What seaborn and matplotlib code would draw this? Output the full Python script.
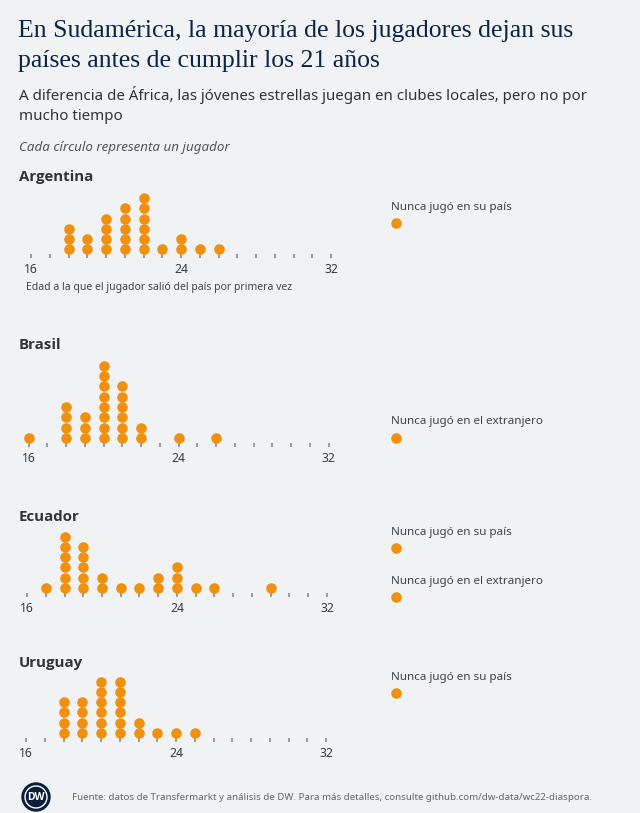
import matplotlib
matplotlib.use("Agg")
import matplotlib.pyplot as plt
import pandas as pd
import seaborn as sns

# ---------------- data ----------------
TITLE_LINES = ["En Sudamérica, la mayoría de los jugadores dejan sus",
               "países antes de cumplir los 21 años"]
SUBTITLE_LINES = ["A diferencia de África, las jóvenes estrellas juegan en clubes locales, pero no por",
                  "mucho tiempo"]
NOTE = "Cada círculo representa un jugador"
XLABEL = "Edad a la que el jugador salió del país por primera vez"
SOURCE = "Fuente: datos de Transfermarkt y análisis de DW. Para más detalles, consulte github.com/dw-data/wc22-diaspora."

countries = ["Argentina", "Brasil", "Ecuador", "Uruguay"]

arg_ages = [18, 19, 20, 21, 22, 23, 24, 25, 26]
arg_counts = [3, 2, 4, 5, 6, 1, 2, 1, 1]
bra_ages = [16, 18, 19, 20, 21, 22, 24, 26]
bra_counts = [1, 4, 3, 8, 6, 2, 1, 1]
ecu_ages = [17, 18, 19, 20, 21, 22, 23, 24, 25, 26, 29]
ecu_counts = [1, 6, 5, 2, 1, 1, 2, 3, 1, 1, 1]
uru_ages = [18, 19, 20, 21, 22, 23, 24, 25]
uru_counts = [4, 4, 6, 6, 2, 1, 1, 1]

arg_never = ["Nunca jugó en su país"]
arg_never_counts = [1]
bra_never = ["Nunca jugó en el extranjero"]
bra_never_counts = [1]
ecu_never = ["Nunca jugó en su país", "Nunca jugó en el extranjero"]
ecu_never_counts = [1, 1]
uru_never = ["Nunca jugó en su país"]
uru_never_counts = [1]

tick_ages = list(range(16, 33))
labeled_ticks = [16, 24, 32]

# ---------------- style ----------------
BG = "#f1f2f4"
ORANGE = "#f0900f"
NAVY = "#0b2546"
sns.set_style("white")
plt.rcParams["font.family"] = ["Noto Sans", "DejaVu Sans"]

W, H = 640, 813
fig = plt.figure(figsize=(W / 100, H / 100), dpi=100, facecolor=BG)

# overlay axes in pixel coordinates for texts
ov = fig.add_axes([0, 0, 1, 1], zorder=0)
ov.set_xlim(0, W)
ov.set_ylim(H, 0)
ov.axis("off")
ov.patch.set_alpha(0)

# header
title_y = [37.5, 67]
for line, y in zip(TITLE_LINES, title_y):
    ov.text(18, y, line, fontsize=18.5, color=NAVY, family=["Liberation Serif", "DejaVu Serif"],
            va="baseline", ha="left")
sub_y = [100.5, 119.5]
for line, y in zip(SUBTITLE_LINES, sub_y):
    ov.text(19, y, line, fontsize=10.9, color="#333333", va="baseline", ha="left")
ov.text(19, 150.5, NOTE, fontsize=9.6, color="#555555", style="italic", va="baseline", ha="left")

# panels
panel_data = [
    (arg_ages, arg_counts, arg_never, arg_never_counts),
    (bra_ages, bra_counts, bra_never, bra_never_counts),
    (ecu_ages, ecu_counts, ecu_never, ecu_never_counts),
    (uru_ages, uru_counts, uru_never, uru_never_counts),
]
baselines = [249.5, 438, 588, 733]
name_baselines = [181, 348.5, 521, 667]
never_text_y = [[207], [421.5], [532, 581], [677]]
x16_px = [31, 28.5, 27, 26]

PX_PER_YEAR = 18.75
ROW_PX = 10.3
AX_LEFT, AX_RIGHT = 14, 360
DOT_S = 58

for (ages, counts, never_lab, never_cnt), base, nb, nty, name, x16 in zip(
        panel_data, baselines, name_baselines, never_text_y, countries, x16_px):
    # country label
    ov.text(19, nb, name, fontsize=10.8, fontweight="bold", color="#333333",
            family=["Open Sans", "DejaVu Sans"], va="baseline", ha="left")

    rows = []
    for a, c in zip(ages, counts):
        for k in range(c):
            rows.append({"edad": a, "fila": k})
    df = pd.DataFrame(rows)

    bottom_px = base + 5
    y0 = -5 / ROW_PX
    y1 = 8.6
    height_px = (y1 - y0) * ROW_PX
    ax = fig.add_axes([AX_LEFT / W, 1 - bottom_px / H, (AX_RIGHT - AX_LEFT) / W, height_px / H],
                      zorder=2)
    ax.patch.set_alpha(0)
    xmin = 16 - (x16 - AX_LEFT) / PX_PER_YEAR
    xmax = 16 + (AX_RIGHT - x16) / PX_PER_YEAR
    sns.scatterplot(data=df, x="edad", y="fila", ax=ax, color=ORANGE, s=DOT_S,
                    linewidth=0, legend=False, zorder=3)
    ax.set_xlim(xmin, xmax)
    ax.set_ylim(y0, y1)
    for sp in ax.spines.values():
        sp.set_visible(False)
    ax.set_yticks([])
    ax.set_xticks(tick_ages)
    ax.set_xticklabels([str(a) if a in labeled_ticks else "" for a in tick_ages])
    ax.tick_params(axis="x", bottom=True, length=3.0, width=1.2, color="#8a8a8a", pad=3.2,
                   labelsize=8.8, labelcolor="#3a3a3a", direction="out")
    ax.set_xlabel("")
    ax.set_ylabel("")

    # "never" categories on the right
    nd = pd.DataFrame({"cat": never_lab, "n": never_cnt,
                       "x": [396] * len(never_lab), "y": [t + 16 for t in nty]})
    for _, r in nd.iterrows():
        ov.text(391, r["y"] - 16, r["cat"], fontsize=8.4, color="#444444", va="center", ha="left")
    sns.scatterplot(data=nd, x="x", y="y", ax=ov, color=ORANGE, s=DOT_S, linewidth=0,
                    legend=False, zorder=3)

ov.set_xlim(0, W)
ov.set_ylim(H, 0)
ov.axis("off")

# x axis description (only first panel)
ov.text(26, 287, XLABEL, fontsize=7.5, color="#444444", va="center", ha="left")

# footer with DW logo
logo = plt.Circle((36, 797), 14, color="#0a1e3c", transform=ov.transData, zorder=4)
ov.add_patch(logo)
ring = plt.Circle((36, 797), 11, fill=False, ec="white", lw=1.0, transform=ov.transData, zorder=5)
ov.add_patch(ring)
ov.text(36, 797.5, "DW", fontsize=7.5, fontweight="bold", color="white", ha="center", va="center",
        family=["Open Sans", "DejaVu Sans"], zorder=6)
ov.text(72, 797, SOURCE, fontsize=7.0, color="#666666", va="center", ha="left")

fig.savefig("out.png", dpi=100, facecolor=BG)
